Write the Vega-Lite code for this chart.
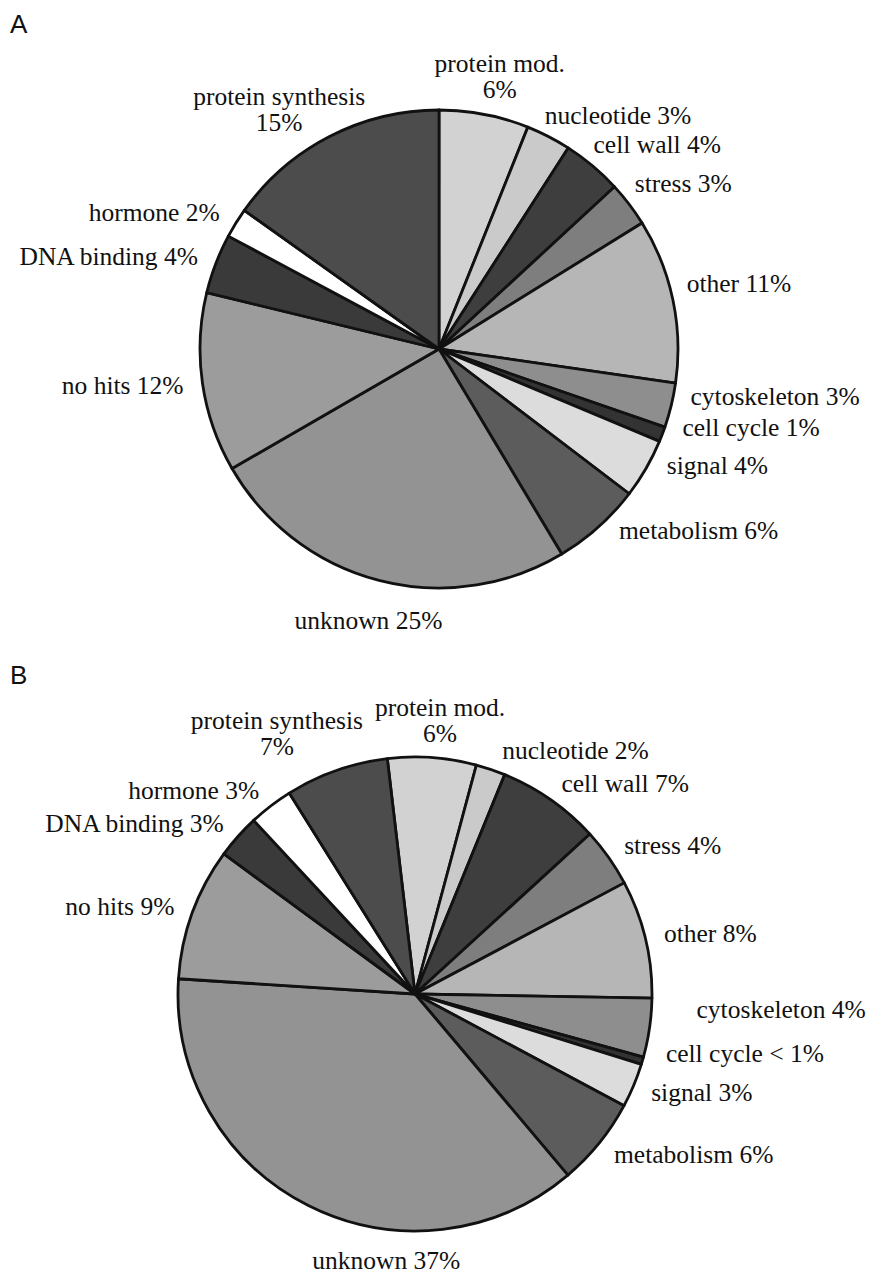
{
  "$schema": "https://vega.github.io/schema/vega-lite/v6.json",
  "background": "white",
  "padding": {"top": 11, "left": 10, "right": 0, "bottom": 0},
  "bounds": "flush",
  "spacing": 58,
  "config": {"view": {"stroke": null}},
  "datasets": {
    "a": [
      {"i": 1, "cat": "protein mod.", "pct": 6, "label": "protein mod.", "label2": "6%"},
      {"i": 2, "cat": "nucleotide", "pct": 3, "label": "nucleotide 3%", "label2": ""},
      {"i": 3, "cat": "cell wall", "pct": 4, "label": "cell wall 4%", "label2": ""},
      {"i": 4, "cat": "stress", "pct": 3, "label": "stress 3%", "label2": ""},
      {"i": 5, "cat": "other", "pct": 11, "label": "other 11%", "label2": ""},
      {"i": 6, "cat": "cytoskeleton", "pct": 3, "label": "cytoskeleton 3%", "label2": ""},
      {"i": 7, "cat": "cell cycle", "pct": 1, "label": "cell cycle 1%", "label2": ""},
      {"i": 8, "cat": "signal", "pct": 4, "label": "signal 4%", "label2": ""},
      {"i": 9, "cat": "metabolism", "pct": 6, "label": "metabolism 6%", "label2": ""},
      {"i": 10, "cat": "unknown", "pct": 25, "label": "unknown  25%", "label2": ""},
      {"i": 11, "cat": "no hits", "pct": 12, "label": "no hits 12%", "label2": ""},
      {"i": 12, "cat": "DNA binding", "pct": 4, "label": "DNA binding 4%", "label2": ""},
      {"i": 13, "cat": "hormone", "pct": 2, "label": "hormone 2%", "label2": ""},
      {"i": 14, "cat": "protein synthesis", "pct": 15, "label": "protein synthesis", "label2": "15%"}
    ],
    "b": [
      {"i": 1, "cat": "protein mod.", "pct": 6, "label": "protein mod.", "label2": "6%"},
      {"i": 2, "cat": "nucleotide", "pct": 2, "label": "nucleotide 2%", "label2": ""},
      {"i": 3, "cat": "cell wall", "pct": 7, "label": "cell wall 7%", "label2": ""},
      {"i": 4, "cat": "stress", "pct": 4, "label": "stress 4%", "label2": ""},
      {"i": 5, "cat": "other", "pct": 8, "label": "other 8%", "label2": ""},
      {"i": 6, "cat": "cytoskeleton", "pct": 4, "label": "cytoskeleton 4%", "label2": ""},
      {"i": 7, "cat": "cell cycle", "pct": 0.5, "label": "cell cycle < 1%", "label2": ""},
      {"i": 8, "cat": "signal", "pct": 3, "label": "signal 3%", "label2": ""},
      {"i": 9, "cat": "metabolism", "pct": 6, "label": "metabolism 6%", "label2": ""},
      {"i": 10, "cat": "unknown", "pct": 37, "label": "unknown  37%", "label2": ""},
      {"i": 11, "cat": "no hits", "pct": 9, "label": "no hits 9%", "label2": ""},
      {"i": 12, "cat": "DNA binding", "pct": 3, "label": "DNA binding 3%", "label2": ""},
      {"i": 13, "cat": "hormone", "pct": 3, "label": "hormone 3%", "label2": ""},
      {"i": 14, "cat": "protein synthesis", "pct": 7, "label": "protein synthesis", "label2": "7%"}
    ]
  },
  "vconcat": [
    {
      "title": {"text": "A", "anchor": "start", "frame": "group", "fontSize": 26, "font": "Liberation Sans", "fontWeight": "normal", "color": "#111", "offset": 3, "baseline": "top"},
      "width": 858,
      "height": 614,
      "data": {"name": "a"},
      "encoding": {
        "theta": {"field": "pct", "type": "quantitative", "stack": true, "scale": {"range": [0, 6.2832]}},
        "order": {"field": "i", "type": "quantitative"},
        "detail": {"field": "cat", "type": "nominal"}
      },
      "layer": [
        {
          "mark": {"type": "arc", "outerRadius": 239, "stroke": "#111", "strokeWidth": 2.8, "strokeJoin": "round"},
          "encoding": {
            "color": {"field": "cat", "type": "nominal", "legend": null,
              "scale": {
                "domain": ["protein mod.", "nucleotide", "cell wall", "stress", "other", "cytoskeleton", "cell cycle", "signal", "metabolism", "unknown", "no hits", "DNA binding", "hormone", "protein synthesis"],
                "range": ["#d2d2d2", "#cacaca", "#3e3e3e", "#7e7e7e", "#b6b6b6", "#8e8e8e", "#333333", "#dcdcdc", "#5c5c5c", "#939393", "#9c9c9c", "#3a3a3a", "#ffffff", "#4c4c4c"]
              }
            }
          }
        },
        {
          "mark": {"type": "text", "radius": 256, "thetaOffset": -0.05, "align": "left", "baseline": "middle", "font": "Liberation Serif", "fontSize": 25.5, "color": "#111"},
          "encoding": {"text": {"condition": {"test": {"field": "cat", "oneOf": ["nucleotide", "cell wall", "stress", "other", "cytoskeleton", "cell cycle", "signal", "metabolism"]}, "field": "label"}, "value": ""}}
        },
        {
          "mark": {"type": "text", "radius": 258, "align": "right", "baseline": "middle", "font": "Liberation Serif", "fontSize": 25.5, "color": "#111"},
          "encoding": {"text": {"condition": {"test": {"field": "cat", "oneOf": ["no hits", "DNA binding", "hormone"]}, "field": "label"}, "value": ""}}
        },
        {
          "mark": {"type": "text", "radius": 291, "thetaOffset": 0.02, "align": "center", "baseline": "middle", "font": "Liberation Serif", "fontSize": 25.5, "color": "#111"},
          "encoding": {"text": {"condition": {"test": {"field": "cat", "oneOf": ["protein mod."]}, "field": "label"}, "value": ""}}
        },
        {
          "mark": {"type": "text", "radius": 291, "thetaOffset": 0.02, "dy": 26, "align": "center", "baseline": "middle", "font": "Liberation Serif", "fontSize": 25.5, "color": "#111"},
          "encoding": {"text": {"condition": {"test": {"field": "cat", "oneOf": ["protein mod."]}, "field": "label2"}, "value": ""}}
        },
        {
          "mark": {"type": "text", "radius": 281, "align": "center", "baseline": "middle", "font": "Liberation Serif", "fontSize": 25.5, "color": "#111"},
          "encoding": {"text": {"condition": {"test": {"field": "cat", "oneOf": ["unknown"]}, "field": "label"}, "value": ""}}
        },
        {
          "mark": {"type": "text", "radius": 298, "thetaOffset": -0.09, "align": "center", "baseline": "middle", "font": "Liberation Serif", "fontSize": 25.5, "color": "#111"},
          "encoding": {"text": {"condition": {"test": {"field": "cat", "oneOf": ["protein synthesis"]}, "field": "label"}, "value": ""}}
        },
        {
          "mark": {"type": "text", "radius": 298, "thetaOffset": -0.09, "dy": 26, "align": "center", "baseline": "middle", "font": "Liberation Serif", "fontSize": 25.5, "color": "#111"},
          "encoding": {"text": {"condition": {"test": {"field": "cat", "oneOf": ["protein synthesis"]}, "field": "label2"}, "value": ""}}
        }
      ]
    },
    {
      "title": {"text": "B", "anchor": "start", "frame": "group", "fontSize": 26, "font": "Liberation Sans", "fontWeight": "normal", "color": "#111", "offset": -12, "baseline": "top"},
      "width": 810,
      "height": 560,
      "data": {"name": "b"},
      "encoding": {
        "theta": {"field": "pct", "type": "quantitative", "stack": true, "scale": {"range": [-0.117, 6.166]}},
        "order": {"field": "i", "type": "quantitative"},
        "detail": {"field": "cat", "type": "nominal"}
      },
      "layer": [
        {
          "mark": {"type": "arc", "outerRadius": 237, "stroke": "#111", "strokeWidth": 2.8, "strokeJoin": "round"},
          "encoding": {
            "color": {"field": "cat", "type": "nominal", "legend": null,
              "scale": {
                "domain": ["protein mod.", "nucleotide", "cell wall", "stress", "other", "cytoskeleton", "cell cycle", "signal", "metabolism", "unknown", "no hits", "DNA binding", "hormone", "protein synthesis"],
                "range": ["#d2d2d2", "#cacaca", "#3e3e3e", "#7e7e7e", "#b6b6b6", "#8e8e8e", "#333333", "#dcdcdc", "#5c5c5c", "#939393", "#9c9c9c", "#3a3a3a", "#ffffff", "#4c4c4c"]
              }
            }
          }
        },
        {
          "mark": {"type": "text", "radius": 256, "align": "left", "baseline": "middle", "font": "Liberation Serif", "fontSize": 25.5, "color": "#111"},
          "encoding": {"text": {"condition": {"test": {"field": "cat", "oneOf": ["cell wall", "stress", "other", "signal", "metabolism"]}, "field": "label"}, "value": ""}}
        },
        {
          "mark": {"type": "text", "radius": 258, "thetaOffset": 0.02, "align": "left", "baseline": "middle", "font": "Liberation Serif", "fontSize": 25.5, "color": "#111"},
          "encoding": {"text": {"condition": {"test": {"field": "cat", "oneOf": ["nucleotide"]}, "field": "label"}, "value": ""}}
        },
        {
          "mark": {"type": "text", "radius": 258, "thetaOffset": -0.05, "align": "left", "baseline": "middle", "font": "Liberation Serif", "fontSize": 25.5, "color": "#111"},
          "encoding": {"text": {"condition": {"test": {"field": "cat", "oneOf": ["cell cycle"]}, "field": "label"}, "value": ""}}
        },
        {
          "mark": {"type": "text", "radius": 282, "thetaOffset": -0.087, "align": "left", "baseline": "middle", "font": "Liberation Serif", "fontSize": 25.5, "color": "#111"},
          "encoding": {"text": {"condition": {"test": {"field": "cat", "oneOf": ["cytoskeleton"]}, "field": "label"}, "value": ""}}
        },
        {
          "mark": {"type": "text", "radius": 256, "align": "right", "baseline": "middle", "font": "Liberation Serif", "fontSize": 25.5, "color": "#111"},
          "encoding": {"text": {"condition": {"test": {"field": "cat", "oneOf": ["no hits", "DNA binding", "hormone"]}, "field": "label"}, "value": ""}}
        },
        {
          "mark": {"type": "text", "radius": 287, "thetaOffset": 0.015, "align": "center", "baseline": "middle", "font": "Liberation Serif", "fontSize": 25.5, "color": "#111"},
          "encoding": {"text": {"condition": {"test": {"field": "cat", "oneOf": ["protein mod."]}, "field": "label"}, "value": ""}}
        },
        {
          "mark": {"type": "text", "radius": 287, "thetaOffset": 0.015, "dy": 26, "align": "center", "baseline": "middle", "font": "Liberation Serif", "fontSize": 25.5, "color": "#111"},
          "encoding": {"text": {"condition": {"test": {"field": "cat", "oneOf": ["protein mod."]}, "field": "label2"}, "value": ""}}
        },
        {
          "mark": {"type": "text", "radius": 306, "thetaOffset": -0.13, "align": "center", "baseline": "middle", "font": "Liberation Serif", "fontSize": 25.5, "color": "#111"},
          "encoding": {"text": {"condition": {"test": {"field": "cat", "oneOf": ["protein synthesis"]}, "field": "label"}, "value": ""}}
        },
        {
          "mark": {"type": "text", "radius": 306, "thetaOffset": -0.13, "dy": 26, "align": "center", "baseline": "middle", "font": "Liberation Serif", "fontSize": 25.5, "color": "#111"},
          "encoding": {"text": {"condition": {"test": {"field": "cat", "oneOf": ["protein synthesis"]}, "field": "label2"}, "value": ""}}
        },
        {
          "mark": {"type": "text", "radius": 269, "thetaOffset": -0.36, "align": "center", "baseline": "middle", "font": "Liberation Serif", "fontSize": 25.5, "color": "#111"},
          "encoding": {"text": {"condition": {"test": {"field": "cat", "oneOf": ["unknown"]}, "field": "label"}, "value": ""}}
        }
      ]
    }
  ]
}
